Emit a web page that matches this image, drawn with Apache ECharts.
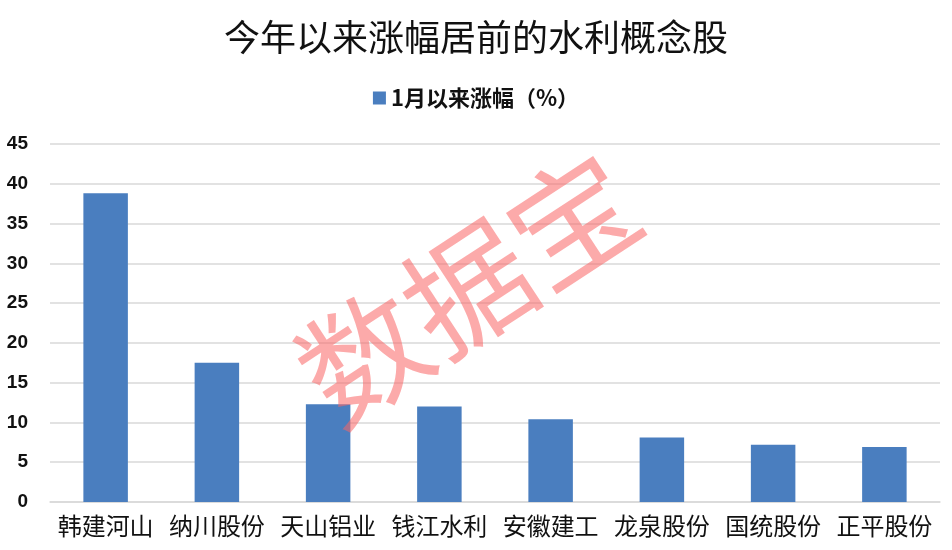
<!DOCTYPE html>
<html><head><meta charset="utf-8">
<script src="https://cdn.jsdelivr.net/npm/echarts@6/dist/echarts.min.js"></script>
<style>html,body{margin:0;padding:0;background:#fff}#c{width:952px;height:550px}</style>
</head><body><div id="c"></div>
<script>
var titleText = '今年以来涨幅居前的水利概念股';
var seriesName = '1月以来涨幅（%）';
var categories = ['韩建河山','纳川股份','天山铝业','钱江水利','安徽建工','龙泉股份','国统股份','正平股份'];
var values = [38.8, 17.5, 12.3, 12.0, 10.4, 8.1, 7.2, 6.9];
var yTicks = [0, 5, 10, 15, 20, 25, 30, 35, 40, 45];
var watermark = '数据宝';

var chart = echarts.init(document.getElementById('c'));
chart.setOption({
  backgroundColor: '#fff',
  animation: false,
  title: {
    text: titleText, left: 'center', top: 14,
    textStyle: {fontFamily: 'Noto Sans CJK SC', fontSize: 36, fontWeight: 'normal', color: '#111'}
  },
  legend: {
    data: [seriesName], left: 'center', top: 82, itemWidth: 13, itemHeight: 13, itemGap: 6,
    icon: 'rect',
    textStyle: {fontFamily: 'Noto Sans CJK SC', fontSize: 22, fontWeight: 'bold', color: '#111'}
  },
  grid: {left: 50, right: 12, top: 144, bottom: 48, containLabel: false},
  xAxis: {
    type: 'category', data: categories,
    axisLine: {lineStyle: {color: '#d9d9d9', width: 1.5}},
    axisTick: {show: false},
    axisLabel: {fontFamily: 'Noto Sans CJK SC', fontSize: 24, color: '#111', margin: 12, interval: 0}
  },
  yAxis: {
    type: 'value', min: yTicks[0], max: yTicks[yTicks.length-1], interval: 5,
    axisLine: {show: false}, axisTick: {show: false},
    splitLine: {lineStyle: {color: '#d9d9d9', width: 1.5}},
    axisLabel: {fontFamily: 'Liberation Sans', fontSize: 19, fontWeight: 'bold', color: '#111', margin: 22}
  },
  series: [{
    name: seriesName, type: 'bar', data: values, barWidth: '40%',
    itemStyle: {color: '#4a7ebf'}
  }],
  graphic: [{
    type: 'text',
    x: 468, y: 288, rotation: 0.58, z: 100,
    style: {text: watermark, font: '125px "Noto Sans CJK SC"', fill: 'rgba(250,100,100,0.55)', textAlign: 'center', textVerticalAlign: 'middle'}
  }]
});
</script></body></html>
